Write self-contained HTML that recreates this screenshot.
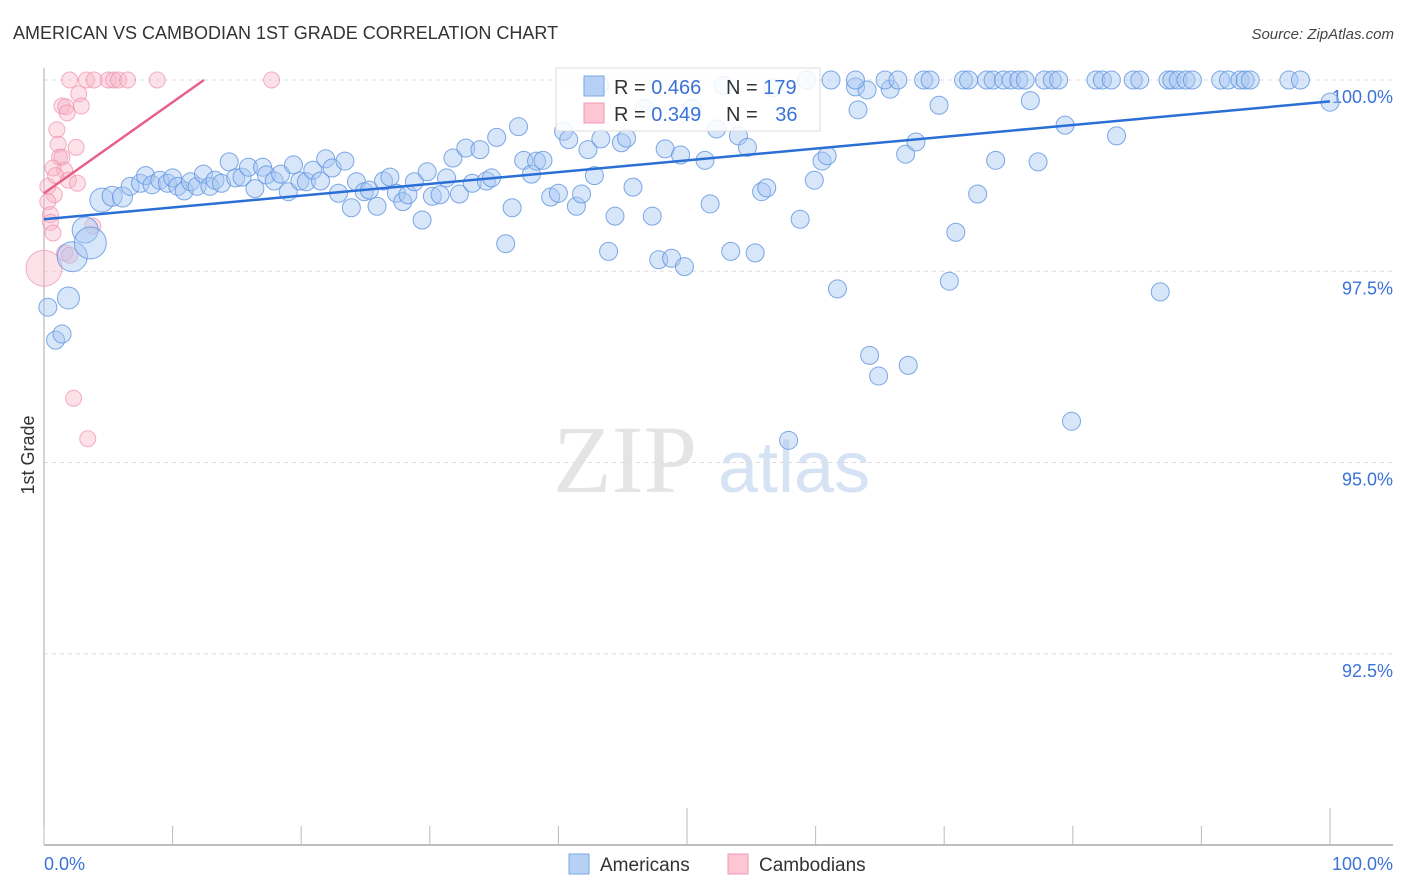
<!DOCTYPE html>
<html><head><meta charset="utf-8"><style>
body{margin:0;background:#fff;font-family:"Liberation Sans",sans-serif;}
#wrap{position:relative;width:1406px;height:892px;overflow:hidden;}
</style></head><body>
<div id="wrap">
<svg id="chart" width="1406" height="892" font-family="Liberation Sans, sans-serif">
<text x="13" y="39" font-size="18" fill="#333">AMERICAN VS CAMBODIAN 1ST GRADE CORRELATION CHART</text>
<text x="1394" y="39" font-size="15" fill="#444" font-style="italic" text-anchor="end">Source: ZipAtlas.com</text>
<text transform="translate(34,455) rotate(-90)" font-size="18" fill="#333" text-anchor="middle">1st Grade</text>
<g>
<text x="553" y="492" font-family="Liberation Serif, serif" font-size="96" fill="#e4e4e4">ZIP</text>
<text x="718" y="492" font-size="72" fill="#d6e3f5">atlas</text>
</g>
<g id="grid"></g>
<g id="axes"></g>
<g id="marks"></g>
<g>
<rect x="556" y="68" width="264" height="63" fill="#fff" fill-opacity="0.85" stroke="#ddd"/>
<rect x="584" y="76" width="20" height="20" fill="#b7d1f4" stroke="#7aa6e6"/>
<rect x="584" y="103" width="20" height="20" fill="#fcc6d5" stroke="#f09ab3"/>
<text x="614" y="94" font-size="20" fill="#333">R = <tspan fill="#3a72d8">0.466</tspan></text>
<text x="726" y="94" font-size="20" fill="#333">N = <tspan fill="#3a72d8">179</tspan></text>
<text x="614" y="121" font-size="20" fill="#333">R = <tspan fill="#3a72d8">0.349</tspan></text>
<text x="726" y="121" font-size="20" fill="#333">N = <tspan fill="#3a72d8" dx="12">36</tspan></text>
</g>
<g>
<rect x="569" y="854" width="20" height="20" fill="#b7d1f4" stroke="#7aa6e6"/>
<text x="600" y="871" font-size="19" fill="#333">Americans</text>
<rect x="728" y="854" width="20" height="20" fill="#fcc6d5" stroke="#f09ab3"/>
<text x="759" y="871" font-size="19" fill="#333">Cambodians</text>
</g>
</svg>
</div>
<script>
const blueX=[0.3,0.9,1.4,1.9,2.2,3.2,3.6,4.5,5.3,6.1,6.7,7.5,7.9,8.4,9.0,9.6,10.0,10.4,10.9,11.4,11.9,12.4,12.9,13.3,13.8,14.4,14.9,15.4,15.9,16.4,17.0,17.3,17.9,18.4,19.0,19.4,19.9,20.4,20.9,21.5,21.9,22.4,22.9,23.4,23.9,24.3,24.9,25.3,25.9,26.4,26.9,27.4,27.9,28.3,28.8,29.4,29.8,30.2,30.8,31.3,31.8,32.3,32.8,33.3,33.9,34.4,34.8,35.2,35.9,36.4,36.9,37.3,37.9,38.3,38.8,39.4,40.0,40.4,40.8,41.4,41.8,42.3,42.8,43.3,43.9,44.4,44.9,45.3,45.8,46.7,47.3,47.8,48.3,48.8,49.5,49.8,50.4,51.4,51.8,52.3,52.8,53.4,54.0,54.7,55.3,55.8,56.2,56.7,57.9,58.8,59.3,59.9,60.5,60.9,61.7,63.3,63.1,64.0,65.8,64.2,64.9,67.0,67.2,67.8,69.6,70.4,70.9,72.6,74.0,76.7,77.3,79.4,79.9,83.4,86.8,100.0,43.2,61.2,63.1,65.4,66.4,68.4,68.9,71.5,71.9,73.3,73.8,74.6,75.2,75.8,76.3,77.8,78.4,78.9,81.8,82.3,83.0,84.7,85.2,87.4,87.7,88.2,88.8,89.3,91.5,92.1,93.0,93.4,93.8,96.8,97.7];
const blueY=[97.03,96.60,96.68,97.15,97.69,98.04,97.87,98.43,98.48,98.47,98.61,98.65,98.75,98.63,98.69,98.65,98.72,98.61,98.55,98.67,98.61,98.77,98.61,98.69,98.65,98.93,98.72,98.73,98.86,98.58,98.86,98.76,98.68,98.77,98.54,98.89,98.68,98.67,98.82,98.68,98.97,98.85,98.52,98.94,98.33,98.67,98.54,98.56,98.35,98.68,98.73,98.52,98.41,98.50,98.67,98.17,98.80,98.48,98.50,98.72,98.98,98.51,99.11,98.65,99.09,98.68,98.72,99.25,97.86,98.33,99.39,98.95,98.77,98.94,98.95,98.47,98.52,99.33,99.22,98.35,98.51,99.09,98.75,99.23,97.76,98.22,99.18,99.24,98.60,99.63,98.22,97.65,99.10,97.67,99.02,97.56,99.63,98.95,98.38,99.36,99.93,97.76,99.27,99.12,97.74,98.54,98.59,99.90,95.29,98.18,100,98.69,98.94,99.01,97.27,99.61,99.91,99.87,99.88,96.40,96.13,99.03,96.27,99.19,99.67,97.37,98.01,98.51,98.95,99.73,98.93,99.41,95.54,99.27,97.23,99.71,99.93,100,100,100,100,100,100,100,100,100,100,100,100,100,100,100,100,100,100,100,100,100,100,100,100,100,100,100,100,100,100,100,100,100,100];
const blueSize=[9,9,9,11,15,13,16,12,10,10];
const pinkX=[2.0,3.3,3.9,5.0,5.4,5.8,6.5,8.8,17.7,2.7,1.4,1.7,2.9,1.8,2.5,1.0,1.1,1.2,1.4,1.6,0.7,0.3,0.9,1.9,2.6,0.8,0.3,0.5,0.5,0.7,3.8,1.6,2.0,0.0,2.3,3.4];
const pinkY=[100,100,100,100,100,100,100,100,100,99.82,99.66,99.65,99.66,99.57,99.12,99.35,99.16,98.99,98.99,98.82,98.85,98.61,98.75,98.69,98.65,98.50,98.41,98.24,98.14,98.00,98.09,97.74,97.71,97.54,95.84,95.31];
const pinkSize=[];pinkSize[33]=18;
const blueTrend=[98.18,99.72];
const pinkTrend=[98.52,0.119];
const yTicks=[100,97.5,95,92.5];
const yTickLabels=["100.0%","97.5%","95.0%","92.5%"];
const xTickLabels=["0.0%","100.0%"];

const NS="http://www.w3.org/2000/svg";
const X0=44,X1=1330,YT=80,PX=76.5;
const sx=v=>X0+(X1-X0)*v/100;
const sy=v=>YT+(100-v)*PX;
function mk(tag,attrs,parent){const e=document.createElementNS(NS,tag);for(const k in attrs)e.setAttribute(k,attrs[k]);parent.appendChild(e);return e;}
const grid=document.getElementById('grid'),axes=document.getElementById('axes'),marks=document.getElementById('marks');
yTicks.forEach((t,i)=>{
 const l=mk('line',{x1:X0,x2:1393,y1:sy(t),y2:sy(t),stroke:'#ddd','stroke-dasharray':'4,4'},grid);
 
 
 const tx=mk('text',{x:1393,y:sy(t)+23,'font-size':18,fill:'#3a72d8','text-anchor':'end'},axes);
 tx.textContent=yTickLabels[i];
 
 
});
let a=mk('line',{x1:X0,x2:X0,y1:68,y2:845,stroke:'#aaa'},axes);


a=mk('line',{x1:X0,x2:1393,y1:845,y2:845,stroke:'#aaa','stroke-width':1.5},axes);


for(let i=0;i<=10;i++){
 const x=sx(i*10);const long=(i==5||i==10);
 const t=mk('line',{x1:x,x2:x,y1:long?808:826,y2:845,stroke:'#bbb'},axes);
 
 
}
let xl=mk('text',{x:44,y:870,'font-size':18,fill:'#3a72d8'},axes);xl.textContent=xTickLabels[0];


xl=mk('text',{x:1393,y:870,'font-size':18,fill:'#3a72d8','text-anchor':'end'},axes);xl.textContent=xTickLabels[1];


pinkX.forEach((v,i)=>{
 const c=mk('circle',{cx:sx(v),cy:sy(pinkY[i]),r:pinkSize[i]||8,fill:'#f8b4c8','fill-opacity':0.4,stroke:'#ef8fae','stroke-opacity':0.7},marks);
 
 
});
blueX.forEach((v,i)=>{
 if(blueY[i]===undefined) return;
 const c=mk('circle',{cx:sx(v),cy:sy(blueY[i]),r:blueSize[i]||9,fill:'#a9c8f2','fill-opacity':0.45,stroke:'#5f93e0','stroke-opacity':0.8},marks);
 
 
});
let tl=mk('line',{x1:sx(0),y1:sy(blueTrend[0]),x2:sx(100),y2:sy(blueTrend[1]),stroke:'#2a6fd6','stroke-width':2.5},marks);


const pEnd=(100-pinkTrend[0])/pinkTrend[1];
tl=mk('line',{x1:sx(0),y1:sy(pinkTrend[0]),x2:sx(pEnd),y2:sy(100),stroke:'#e8608a','stroke-width':2.5},marks);


</script>
</body></html>
